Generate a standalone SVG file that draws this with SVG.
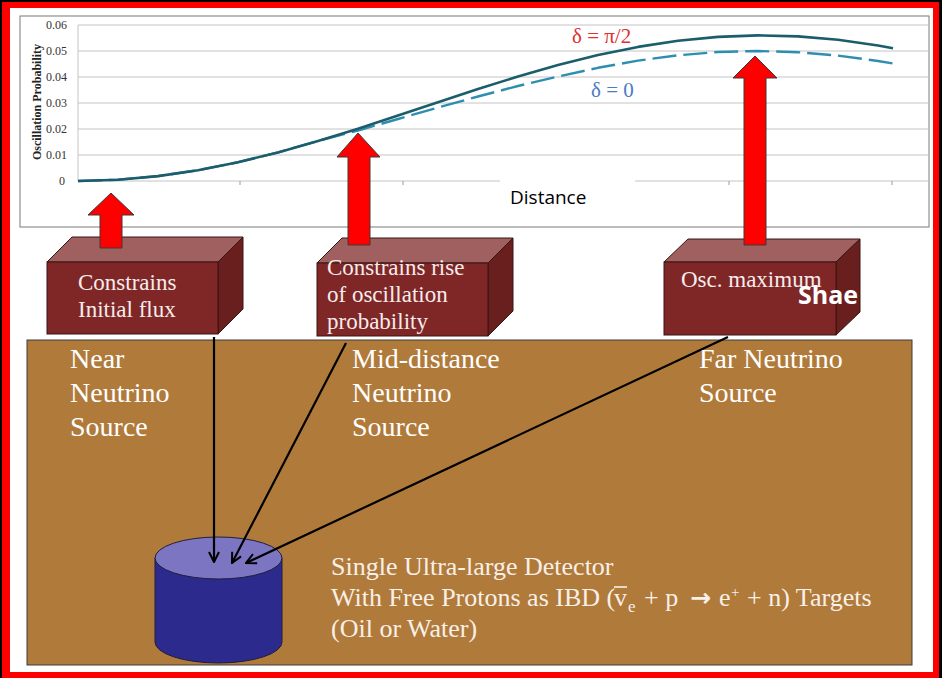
<svg xmlns="http://www.w3.org/2000/svg" width="942" height="678" viewBox="0 0 942 678">
  <style>
    .grid { stroke: #c4c4c4; stroke-width: 1; fill: none; }
    .tick { font-family: "Liberation Serif", serif; font-size: 12px; fill: #333; text-anchor: end; }
    .box-front { fill: #7f2727; stroke: #3a1515; stroke-width: 1; }
    .box-top { fill: #a06060; stroke: #3a1515; stroke-width: 1; }
    .box-side { fill: #6a1f1f; stroke: #3a1515; stroke-width: 1; }
    .box-text { font-family: "Liberation Serif", serif; font-size: 23px; fill: #f6ecec; }
    .lbl { font-family: "Liberation Serif", serif; font-size: 28px; fill: #ffffff; }
    .det { font-family: "Liberation Serif", serif; font-size: 26px; fill: #f8f0e8; }
    .up { fill: #ff0000; stroke: #3a3a3a; stroke-width: 1; }
    .conn { stroke: #000; stroke-width: 2.2; fill: none; }
  </style>
  <defs>
    <marker id="open" viewBox="0 0 12 12" refX="11" refY="6" markerWidth="12" markerHeight="12" markerUnits="userSpaceOnUse" orient="auto">
      <path d="M1,1 L11,6 L1,11" fill="none" stroke="#000" stroke-width="2"/>
    </marker>
  </defs>

  <!-- slide frame -->
  <rect x="0" y="0" width="942" height="678" fill="#000"/>
  <rect x="2" y="2" width="937" height="676" fill="#ff0000"/>
  <rect x="10" y="8" width="923" height="664" fill="#ffffff"/>

  <!-- probability plot -->
  <g id="chart">
    <rect x="20" y="16" width="909" height="211" fill="#fff" stroke="#7a7a7a" stroke-width="1"/>
    <path class="grid" d="M78,25H929M78,51H929M78,77H929M78,103H929M78,129H929M78,155H929M78,181H929M78,25V181"/>
    <path d="M240,181v4M403,181v4M566,181v4M729,181v4M892,181v4" stroke="#9a9a9a" stroke-width="1"/>
    <text class="tick" x="67" y="29">0.06</text>
    <text class="tick" x="67" y="55">0.05</text>
    <text class="tick" x="67" y="81">0.04</text>
    <text class="tick" x="67" y="107">0.03</text>
    <text class="tick" x="67" y="133">0.02</text>
    <text class="tick" x="67" y="159">0.01</text>
    <text class="tick" x="65" y="185">0</text>
    <text transform="translate(41,102) rotate(-90)" text-anchor="middle" font-family="Liberation Serif, serif" font-weight="bold" font-size="12" fill="#222">Oscillation Probability</text>
    <!-- delta = 0 (dashed) -->
    <polyline fill="none" stroke="#2e8eb0" stroke-width="2.4" stroke-dasharray="24 7" stroke-linejoin="round" points="78,181 118,179.8 158,176.1 198,170.2 238,162.2 278,152.4 318,141 358,130.5 398,119 438,107.5 478,96.5 518,86 558,76.5 598,67.8 638,60.6 678,55.3 718,52 758,51 798,52.2 838,55.6 878,61 893,63.5"/>
    <!-- delta = pi/2 (solid) -->
    <polyline fill="none" stroke="#1c5d6c" stroke-width="2.6" stroke-linejoin="round" points="78,181 118,179.8 158,176.1 198,170.2 238,162.2 278,152.4 318,141 358,128.7 398,115.5 438,102.2 478,89 518,76.5 558,65 598,55.1 638,46.9 678,40.8 718,36.9 758,35.4 798,36.4 838,39.8 878,45.5 893,48.2"/>
    <text x="572" y="43" font-family="Liberation Serif, serif" font-size="21" fill="#e0302f">δ = π/2</text>
    <text x="591" y="97" font-family="Liberation Serif, serif" font-size="21" fill="#4a7cc4">δ = 0</text>
    <rect x="500" y="178" width="135" height="30" fill="#fff"/>
    <text x="510" y="204" font-family="Open Sans, sans-serif" font-size="19" fill="#000">Distance</text>
  </g>

  <!-- source boxes -->
  <g id="box-near">
    <polygon class="box-top" points="47,262 72,237 243,237 218,262"/>
    <polygon class="box-side" points="218,262 243,237 243,309 218,334"/>
    <rect class="box-front" x="47" y="262" width="171" height="72"/>
    <text class="box-text" x="78" y="290">Constrains</text>
    <text class="box-text" x="78" y="317">Initial flux</text>
  </g>
  <g id="box-mid">
    <polygon class="box-top" points="317,263 342,238 513,238 488,263"/>
    <polygon class="box-side" points="488,263 513,238 513,311 488,336"/>
    <rect class="box-front" x="317" y="263" width="171" height="73"/>
    <text class="box-text" x="327" y="275">Constrains rise</text>
    <text class="box-text" x="327" y="302">of oscillation</text>
    <text class="box-text" x="327" y="329">probability</text>
  </g>
  <g id="box-far">
    <polygon class="box-top" points="664,262 688,239 860,239 836,262"/>
    <polygon class="box-side" points="836,262 860,239 860,312 836,335"/>
    <rect class="box-front" x="664" y="262" width="172" height="73"/>
    <text class="box-text" x="681" y="287">Osc. maximum</text>
    <text x="798" y="304" font-family="Open Sans, sans-serif" font-weight="bold" font-size="25" fill="#ffffff">Shae</text>
  </g>

  <!-- block arrows pointing at the curve -->
  <g id="arrows-up">
    <polygon class="up" points="100,248 100,215 88,215 111,193 134,215 122,215 122,248"/>
    <polygon class="up" points="348,245 348,157 337,157 358,133 380,157 370,157 370,245"/>
    <polygon class="up" points="744,245 744,78 733,78 755,56 777,78 766,78 766,245"/>
  </g>

  <!-- ground / baseline area -->
  <g id="ground">
    <rect x="27" y="340" width="885" height="325" fill="#b07a3b" stroke="#3c3c3c" stroke-width="1"/>
    <text class="lbl" x="70" y="368">Near</text>
    <text class="lbl" x="70" y="402">Neutrino</text>
    <text class="lbl" x="70" y="436">Source</text>
    <text class="lbl" x="352" y="368">Mid-distance</text>
    <text class="lbl" x="352" y="402">Neutrino</text>
    <text class="lbl" x="352" y="436">Source</text>
    <text class="lbl" x="699" y="368">Far Neutrino</text>
    <text class="lbl" x="699" y="402">Source</text>
  </g>

  <!-- detector -->
  <g id="detector">
    <path d="M155,558 V642 A63.5,21 0 0 0 282,642 V558 Z" fill="#2d2a8e" stroke="#1e1e3a" stroke-width="1"/>
    <ellipse cx="218.5" cy="558" rx="63.5" ry="21" fill="#7c76c2" stroke="#1e1e3a" stroke-width="1"/>
    <text class="det" x="331" y="575">Single Ultra-large Detector</text>
    <text class="det" y="606"><tspan x="331">With Free Protons as IBD (</tspan><tspan x="614">v</tspan><tspan x="628" dy="6" font-size="17">e</tspan><tspan x="644" dy="-6">+ p</tspan><tspan x="690" font-family="DejaVu Sans, sans-serif" font-weight="bold" font-size="25">→</tspan><tspan x="719">e</tspan><tspan x="731" dy="-9" font-size="15">+</tspan><tspan x="747" dy="9">+ n) Targets</tspan></text>
    <line x1="614" y1="587" x2="627" y2="587" stroke="#f8f0e8" stroke-width="1.6"/>
    <text class="det" x="331" y="637">(Oil or Water)</text>
  </g>

  <!-- flux lines from each source to the detector -->
  <g id="connectors">
    <line class="conn" x1="214" y1="337" x2="214" y2="562" marker-end="url(#open)"/>
    <line class="conn" x1="346" y1="343" x2="232" y2="563" marker-end="url(#open)"/>
    <line class="conn" x1="728" y1="337" x2="246" y2="563" marker-end="url(#open)"/>
  </g>
</svg>
